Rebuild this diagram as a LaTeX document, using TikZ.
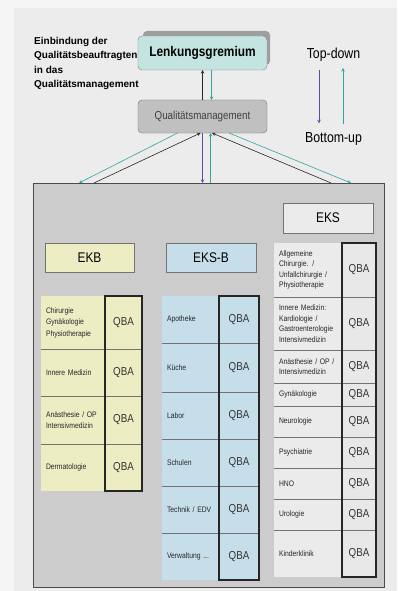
\documentclass[tikz,border=0pt]{standalone}
\usepackage{fontspec}
\setmainfont{Liberation Sans}[FakeStretch=0.85]
\newfontfamily\breitfont{Liberation Sans}
\usepackage{tikz}
\usetikzlibrary{arrows,calc,positioning}
\definecolor{hintergrund}{RGB}{236,236,236}
\definecolor{rand}{RGB}{245,245,245}
\definecolor{tuerkis}{RGB}{46,166,157}
\definecolor{violett}{RGB}{85,80,154}
\definecolor{lenkfarbe}{RGB}{196,228,226}
\definecolor{qmgrau}{RGB}{192,192,192}
\definecolor{hausgrau}{RGB}{204,204,204}
\definecolor{gelb}{RGB}{237,237,196}
\definecolor{hellblau}{RGB}{197,222,234}
\definecolor{hellgrau}{RGB}{235,235,235}
\tikzstyle{box}  =[rectangle, rounded corners=4pt, minimum width=129pt,
                   inner sep=0pt, outer sep=0pt]
\tikzstyle{kopf} =[rectangle, draw=black!55, line width=0.8pt,
                   minimum height=29pt, inner sep=0pt, outer sep=0pt,
                   font=\fontsize{14}{16}\selectfont]
\tikzstyle{zelle}=[rectangle, inner xsep=5pt, inner ysep=0pt, outer sep=0pt,
                   align=left, text=black!85]
\tikzstyle{qba}  =[rectangle, inner sep=0pt, outer sep=0pt,
                   font=\fontsize{11.5}{13}\selectfont, text=black!80]
\tikzstyle{zeile}=[draw=black!55, line width=0.8pt]
\tikzstyle{rahmen}=[draw=black!85, line width=1.2pt]
\tikzstyle{pfeil}=[->, >=stealth, line width=0.6pt]

\begin{document}
\begin{tikzpicture}[x=1pt, y=-1pt]
    \useasboundingbox (0,0) rectangle (397,591);
    \fill[rand] (0,0) rectangle (397,591);
    \fill[hintergrund] (14,8) rectangle (397,591);

    % oben
    \fill[black!38, rounded corners=4pt] (143,31) rectangle (270,65);
    \node[box, draw=black!50, fill=lenkfarbe, minimum height=34pt,
          font=\bfseries\fontsize{14}{16}\selectfont] (lenk) at (202.5,53) {Lenkungsgremium};
    \node[box, draw=black!55, fill=qmgrau, minimum height=33pt, text=black!75,
          font=\fontsize{11.5}{13}\selectfont] (qm) at (202.5,116.5) {Qualitätsmanagement};
    \node[anchor=north west, inner sep=0pt, align=left,
          font=\breitfont\bfseries\fontsize{10}{14.5}\selectfont] (einbindung) at (34,37)
          {Einbindung der\\Qualitätsbeauftragten\\in das\\Qualitätsmanagement};
    \node[inner sep=0pt, font=\fontsize{14.5}{16}\selectfont] (td) at (333.5,55) {Top-down};
    \node[inner sep=0pt, font=\fontsize{14.5}{16}\selectfont] (bu) at (333.5,139) {Bottom-up};

    % Haus
    \node[rectangle, draw=black!70, line width=0.8pt, fill=hausgrau, minimum width=351pt,
          minimum height=404pt, inner sep=0pt, outer sep=0pt] (haus) at (208.5,385) {};
    \node[kopf, fill=gelb, minimum width=89pt] (ekb) at (89.5,257.5) {EKB};
    \node[kopf, fill=hellblau, minimum width=90pt] (eksb) at (211,257.5) {EKS-B};
    \node[kopf, fill=hellgrau, minimum width=90pt, minimum height=30pt] (eks) at (328,218) {EKS};

    % EKB
    \foreach \n/\o/\u/\txt in {1/296/349/{Chirurgie\\Gynäkologie\\Physiotherapie},
        2/349/396/{Innere Medizin}, 3/396/444/{Anästhesie / OP\\Intensivmedizin},
        4/444/491/{Dermatologie}} {
        \pgfmathsetmacro\h{\u-\o}
        \pgfmathsetmacro\m{(\o+\u)/2}
        \node[zelle, fill=gelb, text width=54pt, minimum height=\h pt,
              font=\fontsize{8}{11.5}\selectfont] (ekb\n) at (73,\m) {\txt};
        \node[qba, fill=gelb, minimum width=37pt, minimum height=\h pt] (ekbq\n) at (123.5,\m) {QBA};
    }
    \foreach \n in {1,2,3}
        \draw[zeile] (ekb\n.south west) -- (ekbq\n.south east);
    \draw[rahmen] (ekbq1.north west) rectangle (ekbq4.south east);

    % EKS-B
    \foreach \n/\o/\u/\txt in {1/296/343/{Apotheke}, 2/343/392/{Küche}, 3/392/439/{Labor},
        4/439/486/{Schulen}, 5/486/533/{Technik / EDV}, 6/533/580/{Verwaltung ...}} {
        \pgfmathsetmacro\h{\u-\o}
        \pgfmathsetmacro\m{(\o+\u)/2}
        \node[zelle, fill=hellblau, text width=47pt, minimum height=\h pt,
              font=\fontsize{8}{10}\selectfont] (eksb\n) at (190.5,\m) {\txt};
        \node[qba, fill=hellblau, minimum width=40pt, minimum height=\h pt] (eksbq\n) at (239,\m) {QBA};
    }
    \foreach \n in {1,...,5}
        \draw[zeile] (eksb\n.south west) -- (eksbq\n.south east);
    \draw[rahmen] (eksbq1.north west) rectangle (eksbq6.south east);

    % EKS
    \foreach \n/\o/\u/\txt in {1/243/297/{Allgemeine\\Chirurgie. /\\Unfallchirurgie /\\Physiotherapie},
        2/297/350/{Innere Medizin:\\Kardiologie /\\Gastroenterologie\\Intensivmedizin},
        3/350/383/{Anästhesie / OP /\\Intensivmedizin}, 4/383/406/{Gynäkologie},
        5/406/437/{Neurologie}, 6/437/468/{Psychiatrie}, 7/468/499/{HNO},
        8/499/530/{Urologie}, 9/530/577/{Kinderklinik}} {
        \pgfmathsetmacro\h{\u-\o}
        \pgfmathsetmacro\m{(\o+\u)/2}
        \node[zelle, fill=hellgrau, text width=58pt, minimum height=\h pt,
              font=\fontsize{8}{10.5}\selectfont] (eks\n) at (308,\m) {\txt};
        \node[qba, fill=black!9, minimum width=34pt, minimum height=\h pt] (eksq\n) at (359,\m) {QBA};
    }
    \foreach \n in {1,...,8}
        \draw[zeile] (eks\n.south west) -- (eksq\n.south east);
    \draw[rahmen] (eksq1.north west) rectangle (eksq9.south east);

    % Pfeile
    \draw[pfeil, black!85] (qm.north) -- (lenk.south);
    \draw[pfeil, tuerkis] ([xshift=9pt]lenk.south) -- ([xshift=9pt]qm.north);
    \draw[pfeil, tuerkis] ([xshift=-25pt]qm.south) -- ([xshift=46pt]haus.north west);
    \draw[pfeil, black!85] ([xshift=61pt]haus.north west) -- ([xshift=-2pt]qm.south);
    \draw[pfeil, violett] (qm.south) -- (qm.south |- haus.north);
    \draw[pfeil, tuerkis] ($(qm.south |- haus.north)+(8,0)$) -- ([xshift=8pt]qm.south);
    \draw[pfeil, black!85] ([xshift=-53pt]haus.north east) -- ([xshift=9.5pt]qm.south);
    \draw[pfeil, tuerkis] ([xshift=26.5pt]qm.south) -- ([xshift=-33pt]haus.north east);
    \draw[pfeil, violett, shorten <=8pt, shorten >=9pt] ([xshift=-14.5pt]td.south) -- ([xshift=-14.5pt]bu.north);
    \draw[pfeil, tuerkis, shorten <=8pt, shorten >=6pt] ([xshift=9.5pt]bu.north) -- ([xshift=9.5pt]td.south);

\end{tikzpicture}
\end{document}
